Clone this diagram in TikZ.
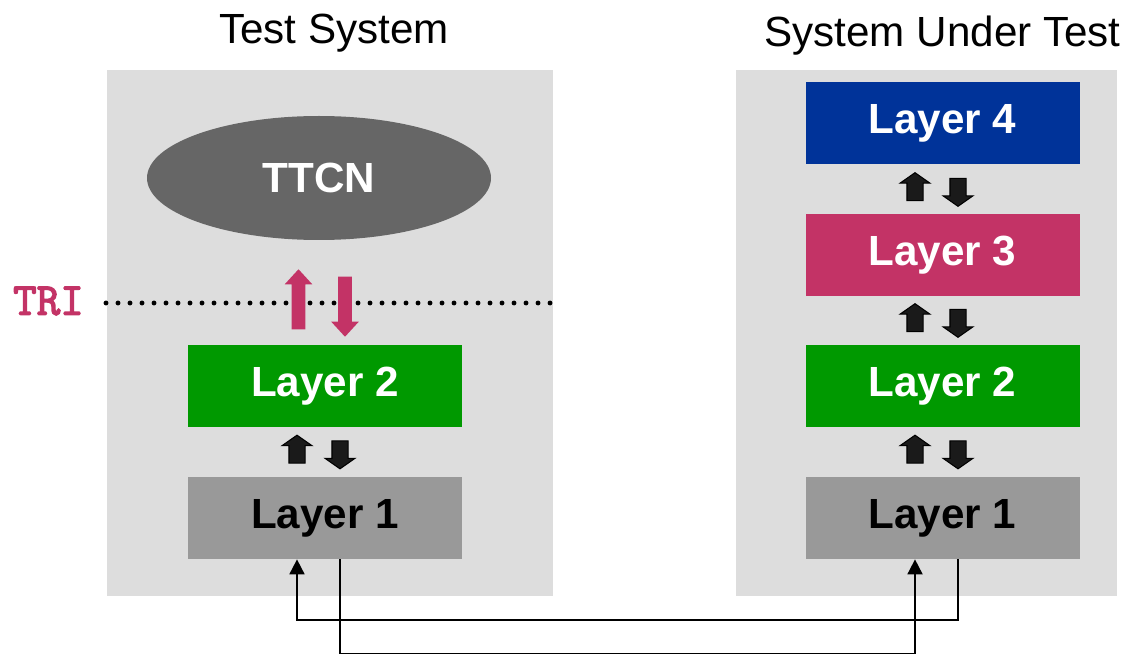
\documentclass[tikz,border=0pt]{standalone}
\usepackage{fontspec}
\setmainfont{Liberation Sans}
\newfontfamily\trifont[AutoFakeBold=3]{Latin Modern Mono}
\usepackage{tikz}
\usetikzlibrary{shapes,arrows.meta}

\definecolor{panelgray}{HTML}{DDDDDD}
\definecolor{ttcngray}{HTML}{666666}
\definecolor{layergreen}{HTML}{009900}
\definecolor{layergray}{HTML}{999999}
\definecolor{layerblue}{HTML}{003399}
\definecolor{layerpink}{HTML}{C33366}
\definecolor{arrowblack}{HTML}{1A1A1A}

\begin{document}
\begin{tikzpicture}[
big/.style={font=\fontsize{24}{28}\selectfont},
layer/.style={rectangle,inner sep=0pt,minimum width=5.48cm,minimum height=1.64cm,font=\bfseries\fontsize{24}{28}\selectfont},
panel/.style={rectangle,fill=panelgray,inner sep=0pt,minimum height=10.52cm},
blockarrow/.style={single arrow,single arrow head indent=0pt},
smallarrow/.style={blockarrow,draw=black,line width=0.6pt,fill=arrowblack,inner sep=0.15cm,minimum height=0.56cm,minimum width=0.58cm,single arrow head extend=0.14cm,single arrow tip angle=110},
triarrow/.style={blockarrow,fill=layerpink,inner sep=0.13cm,minimum height=1.2cm,minimum width=0.54cm,single arrow head extend=0.14cm,single arrow tip angle=85},
conn/.style={line width=1pt}
]
\useasboundingbox (0,0) rectangle (22.7,13.1);

% panels and titles
\node[panel,minimum width=8.92cm] (tspanel) at (6.6,6.44) {};
\node[panel,minimum width=7.62cm] (sutpanel) at (18.53,6.44) {};
\node[big,anchor=base] (tstitle) at (6.68,12.22) {Test System};
\node[big,anchor=base] (suttitle) at (18.85,12.16) {System Under Test};

% test system side
\node[ellipse,fill=ttcngray,text=white,minimum width=6.88cm,minimum height=2.48cm,font=\bfseries\fontsize{24}{28}\selectfont] (ttcn) at (6.38,9.54) {TTCN};
\draw[line width=2.8pt,line cap=round,dash pattern=on 0pt off 0.24cm] (2.12,7.04) -- (11.06,7.04);
\node[font=\trifont\bfseries\fontsize{26}{30}\selectfont,text=layerpink] (tri) at (0.97,7.08) {TRI};
\node[triarrow,shape border rotate=90] (triup) at (5.97,7.04) {};
\node[triarrow,shape border rotate=270] (tridn) at (6.9,7.04) {};
\node[layer,fill=layergreen,text=white] (tsl2) at (6.5,5.38) {Layer 2};
\node[smallarrow,shape border rotate=90] (tsup) at (5.94,4.06) {};
\node[smallarrow,shape border rotate=270] (tsdn) at (6.8,4.06) {};
\node[layer,fill=layergray] (tsl1) at (6.5,2.74) {Layer 1};

% system under test side
\node[layer,fill=layerblue,text=white] (sutl4) at (18.85,10.63) {Layer 4};
\node[smallarrow,shape border rotate=90] (sutup3) at (18.3,9.31) {};
\node[smallarrow,shape border rotate=270] (sutdn3) at (19.16,9.31) {};
\node[layer,fill=layerpink,text=white] (sutl3) at (18.85,8.0) {Layer 3};
\node[smallarrow,shape border rotate=90] (sutup2) at (18.3,6.69) {};
\node[smallarrow,shape border rotate=270] (sutdn2) at (19.16,6.69) {};
\node[layer,fill=layergreen,text=white] (sutl2) at (18.85,5.38) {Layer 2};
\node[smallarrow,shape border rotate=90] (sutup1) at (18.3,4.06) {};
\node[smallarrow,shape border rotate=270] (sutdn1) at (19.16,4.06) {};
\node[layer,fill=layergray] (sutl1) at (18.85,2.74) {Layer 1};

% physical link
\coordinate (lowwire) at (0,0.03);
\coordinate (highwire) at (0,0.7);
\draw[conn,-{Triangle[length=0.3cm,width=0.3cm]}] (tsl1.south -| tsdn) -- (lowwire -| tsdn) -| (sutl1.south -| sutup1);
\draw[conn,-{Triangle[length=0.3cm,width=0.3cm]}] (sutl1.south -| sutdn1) -- (highwire -| sutdn1) -| (tsl1.south -| tsup);
\end{tikzpicture}
\end{document}
